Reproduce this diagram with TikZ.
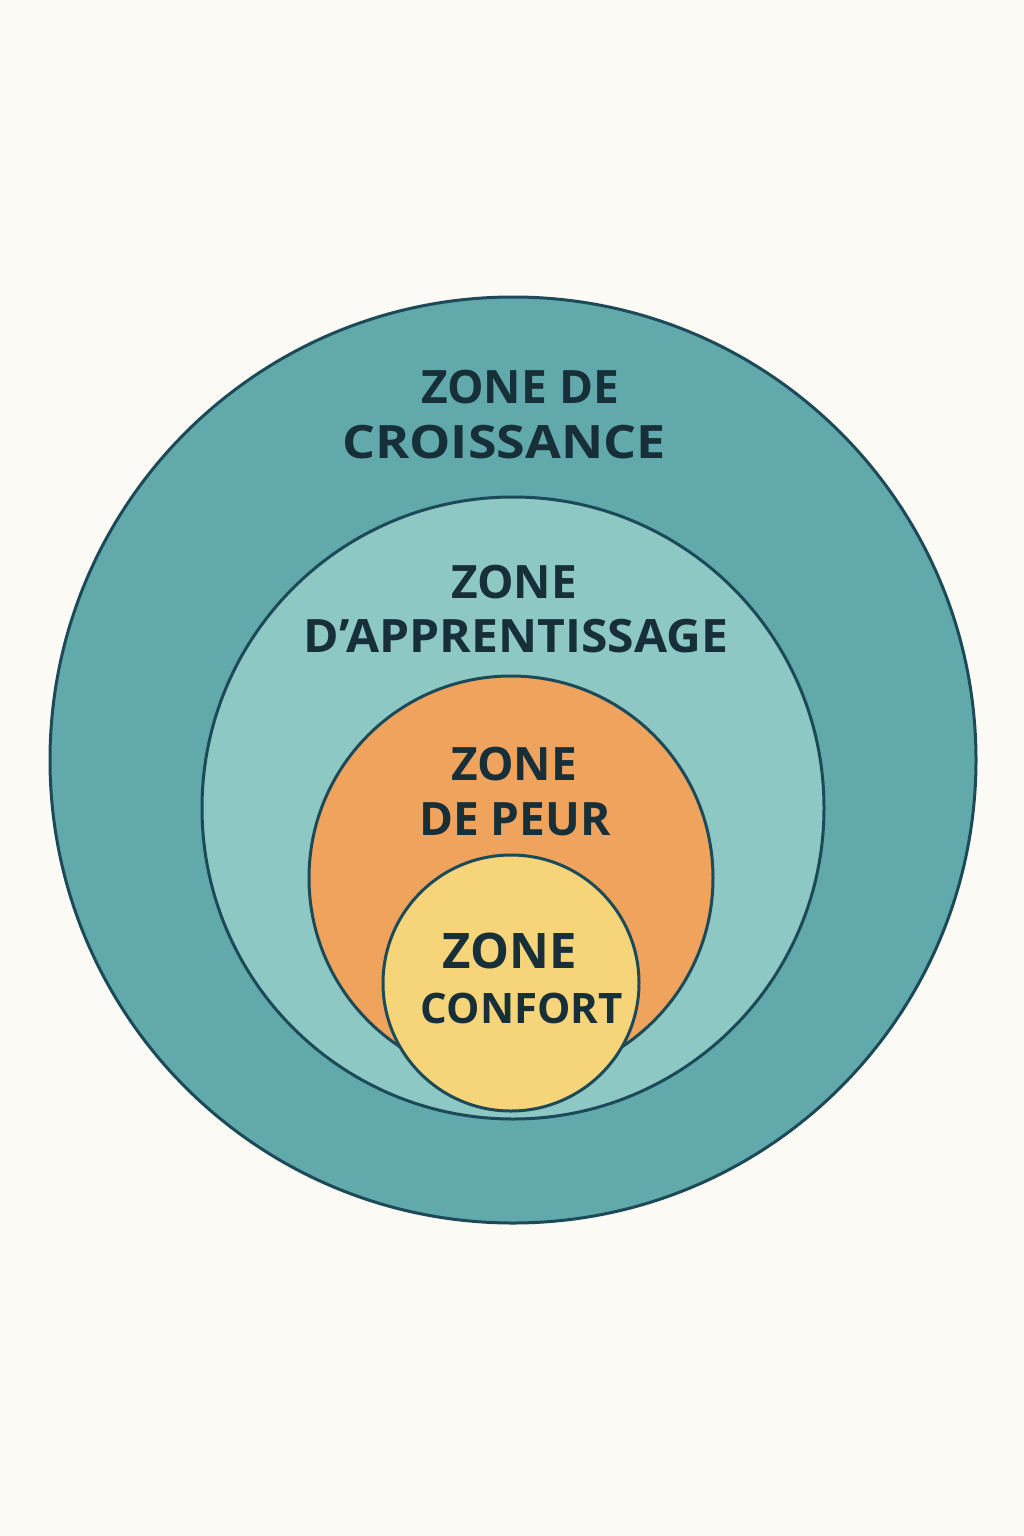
\documentclass[tikz,border=0pt]{standalone}
\usepackage{fontspec}
\setmainfont{Open Sans}
\definecolor{bg}{HTML}{FCFAF5}
\definecolor{outerc}{HTML}{61A9AB}
\definecolor{learnc}{HTML}{8DC8C4}
\definecolor{fearc}{HTML}{F0A35C}
\definecolor{comfc}{HTML}{F6D57A}
\definecolor{edge}{HTML}{1D4A58}
\definecolor{txt}{HTML}{172F38}
\begin{document}
\begin{tikzpicture}[x=1pt,y=-1pt,
  zone/.style={circle,draw=edge,line width=3pt,inner sep=0pt},
  lbl/.style={text=txt,font=\bfseries,align=center,inner sep=0pt}]
\fill[bg] (0,0) rectangle (1024,1536);
\useasboundingbox (0,0) rectangle (1024,1536);
\node[zone,fill=outerc,minimum size=926pt] (growth) at (513,760) {};
\node[zone,fill=learnc,minimum size=622pt] (learn) at (513,808) {};
\node[zone,fill=fearc,minimum size=404pt] (fear) at (511,878) {};
\node[zone,fill=comfc,minimum size=256pt] (comfort) at (511,983) {};
\node[lbl,font=\bfseries\fontsize{46}{55}\selectfont,anchor=base] (g1) at (520,403) {ZONE DE};
\node[lbl,font=\bfseries\fontsize{46}{55}\selectfont,anchor=base] (g2) at (504,458) {\scalebox{1.13}[1]{CROISSANCE}};
\node[lbl,font=\bfseries\fontsize{46}{55}\selectfont,anchor=base] (l1) at (514,598) {ZONE};
\node[lbl,font=\bfseries\fontsize{46}{55}\selectfont,anchor=base] (l2) at (516,652) {\scalebox{1.045}[1]{D’APPRENTISSAGE}};
\node[lbl,font=\bfseries\fontsize{46}{55}\selectfont,anchor=base] (f1) at (514,780) {ZONE};
\node[lbl,font=\bfseries\fontsize{46}{55}\selectfont,anchor=base] (f2) at (515,835) {DE PEUR};
\node[lbl,font=\bfseries\fontsize{49}{58}\selectfont,anchor=base] (c1) at (510,968) {ZONE};
\node[lbl,font=\bfseries\fontsize{42}{50}\selectfont,anchor=base] (c2) at (522,1023) {CONFORT};
\end{tikzpicture}
\end{document}
